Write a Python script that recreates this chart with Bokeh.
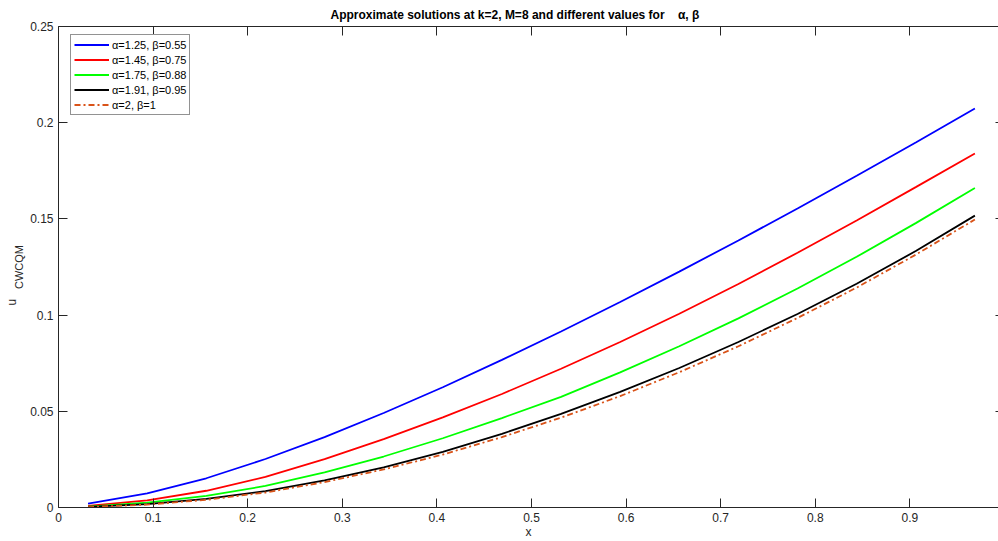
from bokeh.plotting import figure
from bokeh.models import Range1d, LinearAxis, FixedTicker, Legend, LegendItem, Title
from bokeh.embed import file_html
from bokeh.resources import INLINE

# ---- data ----
x_vals = [0.03125, 0.09375, 0.15625, 0.21875, 0.28125, 0.34375, 0.40625, 0.46875,
          0.53125, 0.59375, 0.65625, 0.71875, 0.78125, 0.84375, 0.90625, 0.96875]

u_a125 = [0.0020, 0.0073, 0.0152, 0.0252, 0.0366, 0.0491, 0.0625, 0.0767,
          0.0915, 0.1068, 0.1226, 0.1388, 0.1554, 0.1724, 0.1897, 0.2074]
u_a145 = [0.0008, 0.0037, 0.0087, 0.0159, 0.0251, 0.0355, 0.0468, 0.0590,
          0.0721, 0.0860, 0.1007, 0.1162, 0.1324, 0.1492, 0.1665, 0.1840]
u_a175 = [0.0005, 0.0025, 0.0060, 0.0112, 0.0182, 0.0265, 0.0360, 0.0465,
          0.0575, 0.0702, 0.0838, 0.0983, 0.1138, 0.1303, 0.1478, 0.1661]
u_a191 = [0.0003, 0.0018, 0.0045, 0.0085, 0.0141, 0.0209, 0.0289, 0.0383,
          0.0487, 0.0601, 0.0725, 0.0860, 0.1006, 0.1163, 0.1333, 0.1517]
u_a2 = [0.0002, 0.0015, 0.0040, 0.0078, 0.0132, 0.0198, 0.0275, 0.0366,
        0.0467, 0.0579, 0.0703, 0.0838, 0.0985, 0.1143, 0.1314, 0.1497]

series_labels = ["α=1.25, β=0.55", "α=1.45, β=0.75", "α=1.75, β=0.88",
                 "α=1.91, β=0.95", "α=2, β=1"]

x_ticks = [0, 0.1, 0.2, 0.3, 0.4, 0.5, 0.6, 0.7, 0.8, 0.9]
x_tick_labels = ["0", "0.1", "0.2", "0.3", "0.4", "0.5", "0.6", "0.7", "0.8", "0.9"]
y_ticks = [0, 0.05, 0.1, 0.15, 0.2, 0.25]
y_tick_labels = ["0", "0.05", "0.1", "0.15", "0.2", "0.25"]

title_text = "Approximate solutions at k=2, M=8 and different values for \u00a0\u00a0\u00a0α, β"
x_label = "x"
y_label_main = "u"
y_label_sub = "CWCQM"

# ---- figure ----
FONT = "Liberation Sans"
AX = "#262626"

p = figure(width=998, height=541, output_backend="svg", toolbar_location=None,
           x_range=Range1d(0, 0.9937), y_range=Range1d(0, 0.25),
           x_axis_location=None, y_axis_location=None,
           min_border_left=58, min_border_right=0, min_border_top=26, min_border_bottom=34)
p.outline_line_color = None
p.grid.visible = False
p.background_fill_color = "white"
p.border_fill_color = "white"


def style_axis(ax, labels, tick_in=9):
    ax.axis_line_color = AX
    ax.axis_line_width = 1
    ax.major_tick_line_color = AX
    ax.major_tick_in = tick_in
    ax.major_tick_out = 0
    ax.minor_tick_line_color = None
    ax.major_label_text_font = FONT
    ax.major_label_text_font_size = "12px"
    ax.major_label_text_color = AX
    ax.axis_label_text_font = FONT
    ax.axis_label_text_font_style = "normal"
    ax.axis_label_text_color = AX
    if not labels:
        ax.major_label_text_font_size = "0px"
        ax.major_label_text_color = None
        ax.major_label_standoff = 0


xb = LinearAxis(ticker=FixedTicker(ticks=x_ticks),
                major_label_overrides={t: l for t, l in zip(x_ticks, x_tick_labels)})
style_axis(xb, True)
xb.major_label_standoff = 5
xb.axis_label = x_label
xb.axis_label_text_font_size = "12px"
xb.axis_label_standoff = 0
p.add_layout(xb, "below")

xt = LinearAxis(ticker=FixedTicker(ticks=x_ticks))
style_axis(xt, False)
p.add_layout(xt, "above")

yl = LinearAxis(ticker=FixedTicker(ticks=y_ticks),
                major_label_overrides={t: l for t, l in zip(y_ticks, y_tick_labels)})
style_axis(yl, True)
yl.major_label_standoff = 5
yl.axis_label = y_label_sub
yl.axis_label_text_font_size = "11px"
yl.axis_label_standoff = 2
p.add_layout(yl, "left")

# right-hand box edge lies just outside the picture: only short tick stubs show
yr = LinearAxis(ticker=FixedTicker(ticks=y_ticks))
style_axis(yr, False, tick_in=3)
yr.axis_line_color = None
p.add_layout(yr, "right")

# main letter of the y label, sitting just below-left of the subscript
p.add_layout(Title(text=y_label_main, text_font=FONT, text_font_size="12px",
                   text_font_style="normal", text_color=AX, align="left", offset=202,
                   vertical_align="bottom", standoff=-17), "left")

# title
p.add_layout(Title(text=title_text, text_font=FONT, text_font_size="12px",
                   text_font_style="bold", text_color="#000000", align="left", offset=272,
                   vertical_align="bottom", standoff=9), "above")

# ---- lines ----
colors = ["#0000FF", "#FF0000", "#00FF00", "#000000", "#D95319"]
dashes = ["solid", "solid", "solid", "solid", "6 3 2 3"]
all_series = [u_a125, u_a145, u_a175, u_a191, u_a2]
items = []
for ys, c, d, lab in zip(all_series, colors, dashes, series_labels):
    r = p.line(x_vals, ys, line_color=c, line_width=1.8, line_dash=d)
    items.append(LegendItem(label=lab, renderers=[r]))

legend = Legend(items=items, location=(12, 392), margin=0, padding=3, spacing=2,
                label_height=13, glyph_height=13, glyph_width=35, label_standoff=3,
                label_text_font=FONT, label_text_font_size="11px", label_text_color="#000000",
                border_line_color=AX, border_line_width=1, background_fill_color="white",
                background_fill_alpha=1.0)
p.add_layout(legend, "center")

open("out.html", "w").write(file_html(p, INLINE))
